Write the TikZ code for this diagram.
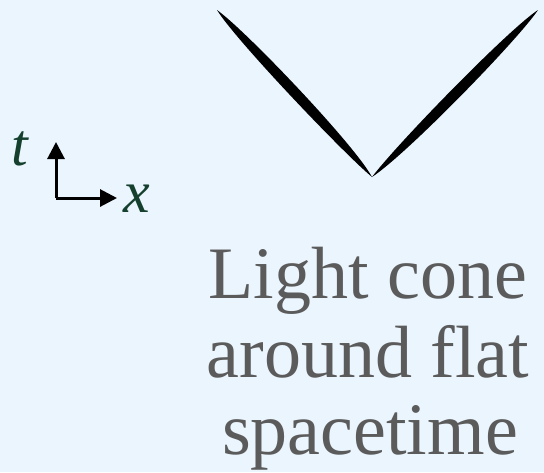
\documentclass[tikz,border=0pt]{standalone}
\usepackage{fontspec}
\setmainfont{Liberation Serif}
\usetikzlibrary{arrows.meta}
\definecolor{bgblue}{HTML}{EAF5FE}
\definecolor{capgray}{HTML}{5B5B5B}
\definecolor{axgreen}{HTML}{15402E}
\tikzset{
  caption/.style={anchor=base,text=capgray,font=\fontsize{74}{78}\selectfont},
  axlabel/.style={text=axgreen,font=\fontsize{60}{64}\selectfont\itshape},
  axarrow/.style={line width=3pt,-{Triangle[length=17pt,width=17pt]}}
}
\begin{document}
\begin{tikzpicture}[x=1pt,y=-1pt]
    \fill[bgblue] (0,0) rectangle (544,472);
    \useasboundingbox (0,0) rectangle (544,472);
    % light cone
    \fill[black] (217,10) .. controls (245.5,30.3) and (354.1,144.1) .. (372,177)
        .. controls (343.8,153.6) and (235.2,39.7) .. cycle;
    \fill[black] (538,10) .. controls (518.1,39.6) and (407.1,153.9) .. (372,177)
        .. controls (397.0,143.9) and (507.9,29.8) .. cycle;
    % axes
    \coordinate (o) at (56,198);
    \coordinate (tup) at (56,142);
    \coordinate (xright) at (117,198);
    \draw[axarrow] (o) -- (tup);
    \draw[axarrow] (o) -- (xright);
    \node[axlabel] (tlab) at (20,149) {t};
    \node[axlabel] (xlab) at (137,199) {x};
    % caption
    \node[caption] (ln1) at (368,298) {Light cone};
    \node[caption] (ln2) at (368,377) {around flat};
    \node[caption] (ln3) at (370,454) {spacetime};
\end{tikzpicture}
\end{document}
